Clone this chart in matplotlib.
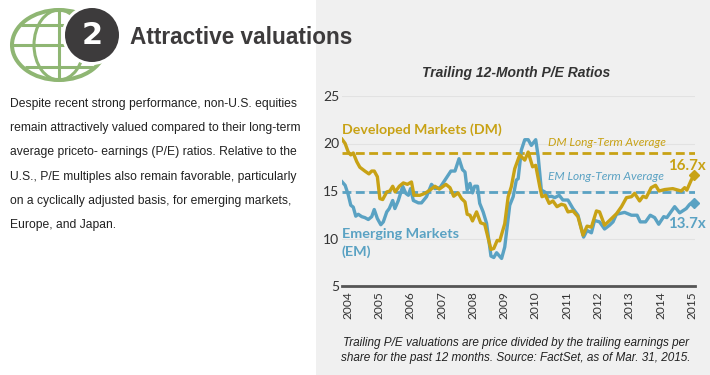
#!/usr/bin/env python3
import matplotlib
matplotlib.use('Agg')
import matplotlib.pyplot as plt
from matplotlib.patches import Circle, Ellipse, Rectangle

plt.rcParams['font.family'] = ['Liberation Sans', 'DejaVu Sans']

GOLD = '#c8a215'
BLUE = '#5aa2c3'
DARK = '#3d3b3c'
GREEN = '#8fb673'
LABEL_FONT = ['Lato', 'DejaVu Sans']

# values
years = list(range(2004, 2016))
y_ticks = [5, 10, 15, 20, 25]
dm_average = 19.0
em_average = 14.9

em_x = [2004.00, 2004.10, 2004.20, 2004.28, 2004.36, 2004.44, 2004.52, 2004.63, 2004.73, 2004.84,
        2004.95, 2005.03, 2005.13, 2005.24, 2005.32, 2005.43, 2005.51, 2005.62, 2005.69, 2005.80,
        2005.94, 2006.04, 2006.12, 2006.19, 2006.28, 2006.44, 2006.54, 2006.70, 2006.86, 2006.97,
        2007.13, 2007.29, 2007.48, 2007.61, 2007.74, 2007.85, 2007.93, 2008.00, 2008.09, 2008.17,
        2008.24, 2008.33, 2008.40, 2008.51, 2008.62, 2008.76, 2008.85, 2008.94, 2009.10, 2009.20,
        2009.36, 2009.47, 2009.57, 2009.63, 2009.73, 2009.84, 2009.95, 2010.05, 2010.19, 2010.27,
        2010.37, 2010.48, 2010.59, 2010.69, 2010.80, 2010.94, 2011.06, 2011.22, 2011.38, 2011.54,
        2011.65, 2011.72, 2011.83, 2011.97, 2012.07, 2012.23, 2012.39, 2012.55, 2012.66, 2012.77,
        2013.03, 2013.25, 2013.43, 2013.53, 2013.70, 2013.85, 2013.99, 2014.12, 2014.28, 2014.38,
        2014.63, 2014.79, 2015.00, 2015.11, 2015.25]
em_y = [15.97, 15.6, 14.6, 13.5, 13.3, 12.35, 12.55, 12.3, 12.2, 12.0,
        12.3, 13.05, 12.1, 11.45, 11.75, 12.8, 13.15, 14.0, 13.15, 14.0,
        15.5, 14.75, 14.55, 15.25, 14.0, 13.75, 13.75, 14.4, 15.7, 15.25,
        15.35, 16.15, 17.1, 17.1, 18.4, 17.25, 17.0, 15.1, 15.8, 14.8,
        15.5, 15.5, 13.7, 12.8, 11.6, 8.15, 8.0, 8.5, 7.9, 9.1,
        13.5, 14.4, 16.15, 16.3, 19.3, 20.4, 20.4, 19.8, 20.4, 18.6,
        15.1, 14.9, 14.4, 14.45, 14.3, 14.55, 14.05, 14.05, 13.15, 12.45,
        11.05, 10.15, 10.85, 10.6, 11.9, 11.75, 11.0, 11.4, 11.75, 12.55,
        12.75, 12.45, 12.45, 11.75, 11.75, 12.45, 12.2, 11.5, 12.3, 12.2,
        13.35, 12.7, 13.15, 13.6, 13.7]

dm_x = [2004.00, 2004.10, 2004.20, 2004.28, 2004.36, 2004.47, 2004.57, 2004.73, 2004.86, 2004.95,
        2005.03, 2005.13, 2005.21, 2005.30, 2005.43, 2005.53, 2005.62, 2005.70, 2005.83, 2005.96,
        2006.09, 2006.22, 2006.30, 2006.49, 2006.65, 2006.81, 2006.97, 2007.11, 2007.32, 2007.45,
        2007.57, 2007.71, 2007.82, 2007.93, 2008.00, 2008.09, 2008.17, 2008.30, 2008.43, 2008.56,
        2008.76, 2008.85, 2008.96, 2009.04, 2009.20, 2009.31, 2009.41, 2009.52, 2009.68, 2009.84,
        2009.95, 2010.09, 2010.19, 2010.32, 2010.39, 2010.50, 2010.62, 2010.74, 2010.87, 2011.01,
        2011.12, 2011.22, 2011.38, 2011.54, 2011.70, 2011.83, 2011.97, 2012.13, 2012.23, 2012.39,
        2012.55, 2012.77, 2012.93, 2013.09, 2013.25, 2013.35, 2013.51, 2013.62, 2013.72, 2013.88,
        2014.02, 2014.13, 2014.31, 2014.57, 2014.84, 2014.95, 2015.02, 2015.16, 2015.25]
dm_y = [20.45, 20.0, 19.1, 18.8, 19.0, 18.1, 17.5, 17.1, 16.8, 17.1,
        17.1, 16.5, 14.2, 14.1, 14.9, 15.0, 15.5, 14.9, 15.5, 15.85,
        15.7, 15.95, 14.55, 14.55, 14.75, 15.1, 15.5, 15.2, 15.7, 15.35,
        14.45, 14.8, 14.2, 13.85, 12.55, 12.45, 11.85, 12.8, 11.65, 11.5,
        8.85, 8.95, 9.8, 9.75, 11.55, 14.4, 15.45, 17.35, 18.8, 18.25,
        19.1, 17.55, 17.7, 15.45, 14.4, 14.55, 13.7, 13.95, 13.35, 13.6,
        13.5, 12.8, 12.9, 12.3, 10.35, 11.3, 11.2, 12.9, 12.8, 11.4,
        11.9, 12.6, 13.35, 14.3, 14.4, 14.75, 13.95, 14.45, 14.3, 15.35,
        15.6, 15.0, 15.15, 15.25, 15.0, 15.35, 15.1, 16.15, 16.7]

body_lines = [
    'Despite recent strong performance, non-U.S. equities',
    'remain attractively valued compared to their long-term',
    'average priceto- earnings (P/E) ratios. Relative to the',
    'U.S., P/E multiples also remain favorable, particularly',
    'on a cyclically adjusted basis, for emerging markets,',
    'Europe, and Japan.',
]
footer_lines = [
    'Trailing P/E valuations are price divided by the trailing earnings per',
    'share for the past 12 months. Source: FactSet, as of Mar. 31, 2015.',
]

W, H = 710, 375
fig = plt.figure(figsize=(W / 100, H / 100), dpi=100, facecolor='white')

# pixel canvas behind everything for panel, icon and page text
page = fig.add_axes([0, 0, 1, 1], zorder=0)
page.set_xlim(0, W)
page.set_ylim(H, 0)
page.axis('off')
page.add_patch(Rectangle((316, 0), W - 316, H, color='#f0f0f0', lw=0))

# globe icon
page.add_patch(Ellipse((59, 45), 94, 70, fill=False, ec=GREEN, lw=2.9))
page.add_patch(Ellipse((59, 45), 50, 70, fill=False, ec=GREEN, lw=2.2))
page.plot([59, 59], [10, 80], color=GREEN, lw=2.2, solid_capstyle='butt')
for gy, half in ((25, 38), (45, 46), (67, 34)):
    page.plot([59 - half, 59 + half], [gy, gy], color=GREEN, lw=2.2, solid_capstyle='butt')
page.add_patch(Circle((92, 35), 30, color='white', lw=0, zorder=3))
page.add_patch(Circle((92, 35), 27, color=DARK, lw=0, zorder=4))
page.text(92, 35, '2', color='white', fontsize=22, fontweight='bold',
          family=['DejaVu Sans'], ha='center', va='center', zorder=5)

page.text(130, 37.5, 'Attractive valuations', color=DARK, fontsize=16.3, fontweight='bold',
          ha='left', va='center')
for i, line in enumerate(body_lines):
    page.text(10, 104 + i * 24.2, line, color='#222222', fontsize=8.7, ha='left', va='center')
page.text(516, 73, 'Trailing 12-Month P/E Ratios', color='#333333', fontsize=10,
          fontweight='bold', fontstyle='italic', ha='center', va='center')
for i, line in enumerate(footer_lines):
    page.text(516, 343 + i * 14.5, line, color='#222222', fontsize=8.5, fontstyle='italic',
              ha='center', va='center')

# chart
ax = fig.add_axes([342 / W, 1 - 286 / H, (695 - 342) / W, (286 - 96) / H], zorder=1)
ax.patch.set_alpha(0)
ax.set_xlim(2004, 2015.28)
ax.set_ylim(5, 25)
for side in ('top', 'right', 'left'):
    ax.spines[side].set_visible(False)
ax.spines['bottom'].set_color('#555555')
ax.spines['bottom'].set_linewidth(2)
ax.set_yticks(y_ticks)
ax.grid(axis='y', color='#e2e2e2', lw=0.8)
ax.set_axisbelow(True)
ax.set_xticks([y + 0.18 for y in years])
ax.set_xticklabels(years, rotation=90, fontname='Lato', fontsize=8.6, color='#333333')
ax.tick_params(axis='x', length=0, pad=4)
ax.tick_params(axis='y', length=0, pad=2, labelsize=10, labelcolor='#333333')
for lab in ax.get_yticklabels():
    lab.set_fontname('Lato')

ax.axhline(dm_average, color=GOLD, lw=2, dashes=(3.2, 1.6))
ax.axhline(em_average, color=BLUE, lw=2, dashes=(3.2, 1.6))
ax.plot(em_x, em_y, color=BLUE, lw=2.4, solid_joinstyle='round')
ax.plot(dm_x, dm_y, color=GOLD, lw=2.4, solid_joinstyle='round')
ax.plot(em_x[-1], em_y[-1], marker='D', ms=5.5, color=BLUE, clip_on=False)
ax.plot(dm_x[-1], dm_y[-1], marker='D', ms=5.5, color=GOLD, clip_on=False)

ax.text(2004.0, 21.45, 'Developed Markets (DM)', color=GOLD, fontsize=10.2, fontweight='bold',
        family=LABEL_FONT, ha='left', va='center')
ax.text(2004.0, 10.45, 'Emerging Markets', color=BLUE, fontsize=10.4, fontweight='bold',
        family=LABEL_FONT, ha='left', va='center')
ax.text(2004.0, 8.6, '(EM)', color=BLUE, fontsize=10.4, fontweight='bold',
        family=LABEL_FONT, ha='left', va='center')
ax.text(2010.58, 20.1, 'DM Long-Term Average', color=GOLD, fontsize=8.6, fontstyle='italic',
        family=LABEL_FONT, ha='left', va='center')
ax.text(2010.58, 16.55, 'EM Long-Term Average', color=BLUE, fontsize=8.6, fontstyle='italic',
        family=LABEL_FONT, ha='left', va='center')
ax.text(2015.63, 17.65, f'{dm_y[-1]}x', color=GOLD, fontsize=10.8, fontweight='bold',
        family=LABEL_FONT, ha='right', va='center', clip_on=False)
ax.text(2015.63, 11.5, f'{em_y[-1]}x', color=BLUE, fontsize=10.8, fontweight='bold',
        family=LABEL_FONT, ha='right', va='center', clip_on=False)

fig.savefig('out.png', dpi=100)
